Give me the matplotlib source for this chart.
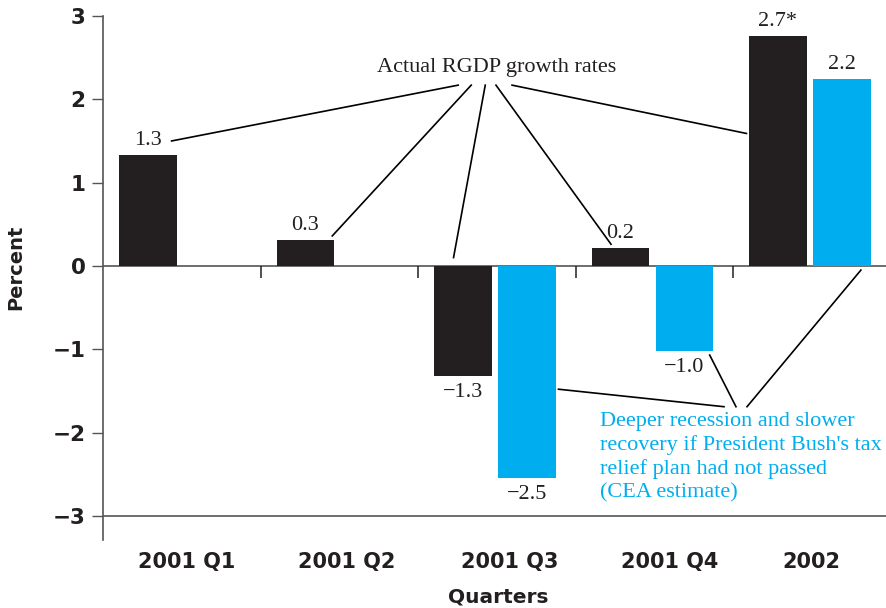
import matplotlib
matplotlib.use('Agg')
import matplotlib.pyplot as plt
import numpy as np

# data
quarters = ['2001 Q1', '2001 Q2', '2001 Q3', '2001 Q4', '2002']
actual = [1.33, 0.31, -1.32, 0.21, 2.76]
actual_labels = ['1.3', '0.3', '\u22121.3', '0.2', '2.7*']
cea = [np.nan, np.nan, -2.54, -1.02, 2.24]
cea_labels = ['', '', '\u22122.5', '\u22121.0', '2.2']

DARK = '#231F20'
BLUE = '#00AEEF'
GRAY = '#555555'
SERIF = 'Liberation Serif'

fig = plt.figure(figsize=(8.86, 6.08), dpi=100)
ax = fig.add_axes([103 / 886, 1 - 540 / 608, 1 - 103 / 886, (540 - 16) / 608])

x = np.arange(len(quarters))
w = 0.368
x_black = x + 0.1016 + w / 2
x_blue = x + 0.508 + w / 2

ax.bar(x_black, actual, width=w, color=DARK, zorder=3)
ax.bar(x_blue, cea, width=w, color=BLUE, zorder=3)

# value labels
for xi, v, s in zip(x_black, actual, actual_labels):
    off = 0.06 if v > 0 else -0.09
    ax.text(xi, v + off, s, ha='center', va='bottom' if v > 0 else 'top',
            fontsize=16, family=SERIF, color=DARK)
for xi, v, s in zip(x_blue, cea, cea_labels):
    if np.isnan(v):
        continue
    off = 0.06 if v > 0 else -0.09
    ax.text(xi, v + off, s, ha='center', va='bottom' if v > 0 else 'top',
            fontsize=16, family=SERIF, color=DARK)

ax.set_xlim(0, 783 / 157.5)
ax.set_ylim(-3.29, 3)

ax.axhline(0, color=GRAY, lw=1.2, zorder=2)
ax.axhline(-3, color=GRAY, lw=1.2, zorder=2)
# small separators between groups
ax.vlines(x[1:], 0, -0.14, color=DARK, lw=1.1)

for s in ['top', 'right', 'bottom']:
    ax.spines[s].set_visible(False)
ax.spines['left'].set_color(GRAY)
ax.spines['left'].set_linewidth(1.2)

ax.set_yticks([-3, -2, -1, 0, 1, 2, 3])
ax.tick_params(axis='y', length=8, width=1, color=GRAY, pad=4.5,
               labelsize=15.5, labelcolor=DARK)
for t in ax.get_yticklabels():
    t.set_fontweight('bold')

ax.set_xticks(x + 0.5 + np.array([0.03, 0.05, 0.08, 0.1, 0.0]))
ax.set_xticklabels(quarters, fontsize=15, fontweight='bold', color=DARK)
ax.tick_params(axis='x', length=0, pad=8.5)

fig.text(16 / 886, 1 - 267 / 608, 'Percent', rotation=90, ha='center', va='center',
         fontsize=14, fontweight='bold', color=DARK)
fig.text(498 / 886, 1 - 597 / 608, 'Quarters', ha='center', va='center',
         fontsize=14.5, fontweight='bold', color=DARK)

# "Actual" callout
ax.text(2.5, 2.38, 'Actual RGDP growth rates', ha='center', va='center',
        fontsize=16, family=SERIF, color=DARK)
starts = [(2.255, 2.17), (2.338, 2.17), (2.427, 2.17), (2.495, 2.17), (2.597, 2.17)]
ends = [(x_black[0] + 0.15, actual[0] + 0.17),
        (x_black[1] + 0.17, actual[1] + 0.05),
        (x_black[2] - 0.06, 0.1),
        (x_black[3] - 0.06, actual[3] + 0.05),
        (x_black[4] - 0.2, actual[4] - 1.17)]
for (x0, y0), (x1, y1) in zip(starts, ends):
    ax.plot([x0, x1], [y0, y1], color='black', lw=1.2, zorder=4)

# CEA callout
ax.text(3.155, -1.75, "Deeper recession and slower\nrecovery if President Bush's tax\n"
        "relief plan had not passed\n(CEA estimate)", ha='left', va='top',
        fontsize=16, family=SERIF, color=BLUE, linespacing=1.28)
hub = [(3.943, -1.69), (4.019, -1.69), (4.089, -1.69)]
cea_ends = [(x_blue[2] + 0.2, -1.48), (x_blue[3] + 0.16, -1.07), (x_blue[4] + 0.12, -0.05)]
for (x0, y0), (x1, y1) in zip(hub, cea_ends):
    ax.plot([x0, x1], [y0, y1], color='black', lw=1.2, zorder=4)

fig.savefig('out.png', dpi=100)
